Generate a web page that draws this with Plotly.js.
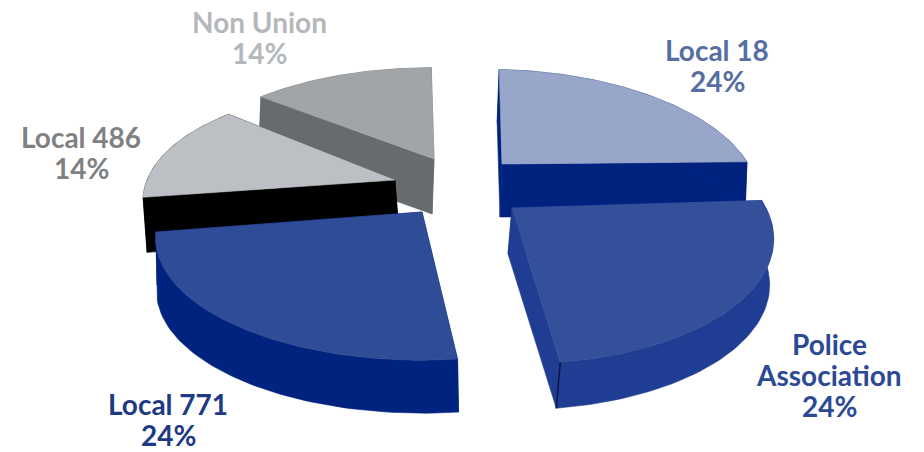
<!DOCTYPE html>
<html>
<head>
<meta charset="utf-8">
<script src="https://cdn.plot.ly/plotly-3.0.1.min.js"></script>
<style>html,body{margin:0;padding:0;background:#fff}#chart{width:924px;height:452px}</style>
</head>
<body>
<div id="chart"></div>
<script>
// Membership share by bargaining group
const categories = ["Local 18", "Police Association", "Local 771", "Local 486", "Non Union"];
const shares = [24, 24, 24, 14, 14];

// Face and wall colours per group
const topColors = ["#97a6c9", "#35509a", "#2f4d96", "#bcbfc3", "#a1a5a8"];
const wallColors = ["#00227f", "#1f3d93", "#00237f", "#000000", "#666b70"];
const labelColors = ["#566ea3", "#2c4a94", "#1f3a85", "#7f8184", "#b5b8bb"];

// Tilted-disc projection of each exploded wedge: apex, radii, skew, thickness
const apexX = [502, 512, 422, 395, 434];
const apexY = [164, 208, 212, 180, 159];
const radiusX = [249, 254, 259, 246, 253];
const radiusY = [115, 122, 116, 112, 111];
const skewX = [0.03, 0.05, -0.04, 0, 0.03];
const skewY = [0.02, 0, 0.01, 0.018, 0];
const wallDrop = [53, 46, 53, 55, 55];
const wallShift = [-2, -4, 1, 4, -2];
const foreshorten = 0.217;

// Label lines and placement
const labelLines = [["Local 18"], ["Police", "Association"], ["Local 771"], ["Local 486"], ["Non Union"]];
const labelX = [717, 829, 168, 81, 259];
const labelTop = [50, 344, 404, 137, 22];
const lineStep = 31;

// Draw back wedges first so nearer ones cover them
const drawOrder = [4, 3, 0, 2, 1];

const total = shares.reduce((a, b) => a + b, 0);
const startAngle = [];
shares.reduce((sum, v, i) => { startAngle[i] = sum / total * 2 * Math.PI; return sum + v; }, 0);

function project(i, theta) {
  const w = 1 + foreshorten * Math.cos(theta);
  const px = radiusX[i] * Math.sin(theta) / w;
  const py = -radiusY[i] * Math.cos(theta) / w;
  return [apexX[i] + px + skewX[i] * py, apexY[i] + py + skewY[i] * px];
}

function wedgeArc(i) {
  const a0 = startAngle[i];
  const a1 = a0 + shares[i] / total * 2 * Math.PI;
  const n = 60;
  const pts = [];
  for (let k = 0; k <= n; k++) pts.push(project(i, a0 + (a1 - a0) * k / n));
  return pts;
}

function polygonTrace(points, color, extra) {
  const closed = points.concat([points[0]]);
  return Object.assign({
    type: "scatter", mode: "lines",
    x: closed.map(p => p[0]), y: closed.map(p => p[1]),
    fill: "toself", fillcolor: color, line: {color: color, width: 0.6},
    hoverinfo: "skip", showlegend: false
  }, extra || {});
}

const traces = [];
drawOrder.forEach(i => {
  const arc = wedgeArc(i);
  const apex = [apexX[i], apexY[i]];
  const down = p => [p[0] + wallShift[i], p[1] + wallDrop[i]];
  const tip = arc[arc.length - 1];

  // Walls: the two radial cuts and the outer rim
  traces.push(polygonTrace([apex, arc[0], down(arc[0]), down(apex)], wallColors[i]));
  traces.push(polygonTrace([apex, tip, down(tip), down(apex)], wallColors[i]));
  traces.push(polygonTrace(arc.concat(arc.slice().reverse().map(down)), wallColors[i]));

  // Top face
  traces.push(polygonTrace([apex].concat(arc), topColors[i], {
    name: categories[i],
    text: categories[i] + ": " + shares[i] + "%",
    hoverinfo: "text"
  }));

  // Dark seam on the front corner of the Police Association wedge
  if (categories[i] === "Police Association") {
    const foot = down(tip);
    traces.push({
      type: "scatter", mode: "lines", x: [tip[0], foot[0]], y: [tip[1], foot[1]],
      line: {color: "#0a1440", width: 1.4}, hoverinfo: "skip", showlegend: false
    });
  }
});

// One annotation per text line, percentage last
const annotations = [];
categories.forEach((c, i) => {
  labelLines[i].concat([shares[i] + "%"]).forEach((line, k) => {
    annotations.push({
      x: labelX[i], y: labelTop[i] + k * lineStep, xref: "x", yref: "y",
      text: "<b>" + line + "</b>", showarrow: false,
      xanchor: "center", yanchor: "middle", align: "center",
      font: {family: "Lato, 'Open Sans', sans-serif", size: 28, color: labelColors[i]}
    });
  });
});

const layout = {
  width: 924, height: 452,
  margin: {l: 0, r: 0, t: 0, b: 0},
  paper_bgcolor: "#ffffff", plot_bgcolor: "#ffffff",
  showlegend: false,
  xaxis: {range: [0, 924], visible: false, fixedrange: true},
  yaxis: {range: [452, 0], visible: false, fixedrange: true},
  annotations: annotations
};

Plotly.newPlot("chart", traces, layout, {displayModeBar: false});
</script>
</body>
</html>
